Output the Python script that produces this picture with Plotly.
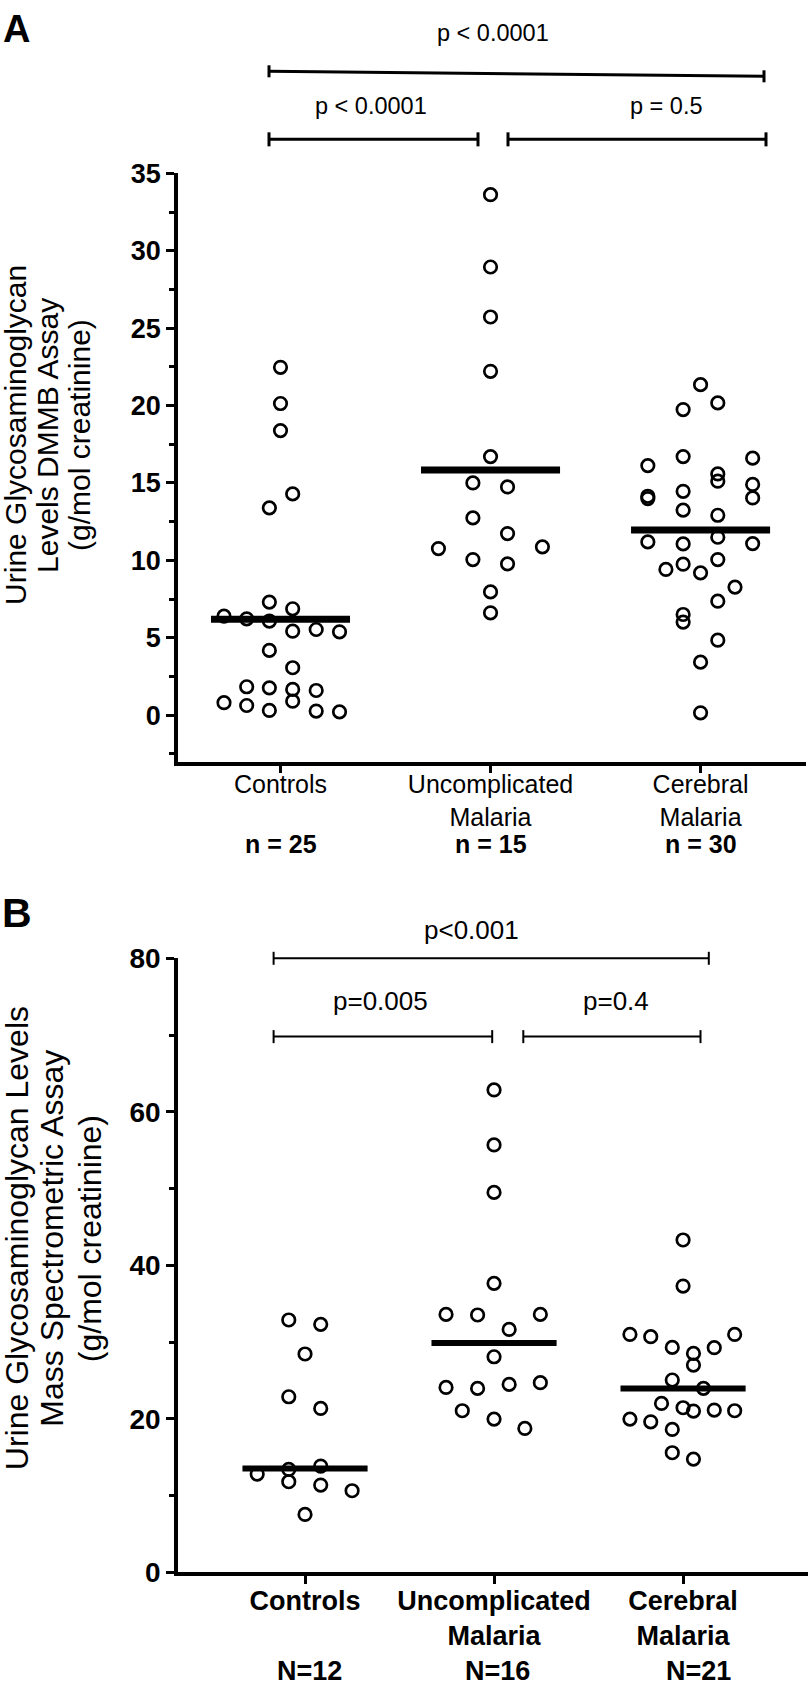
import plotly.graph_objects as go

W, H = 810, 1695
FONT = "Liberation Sans, Arial, Helvetica, sans-serif"

# ---------------- Panel A : DMMB assay ----------------
cat_a = ["Controls", "Uncomplicated<br>Malaria", "Cerebral<br>Malaria"]
n_a = ["n = 25", "n = 15", "n = 30"]
ctrl_a = [22.47, 20.13, 18.38, 14.29, 13.39, 6.39, 6.22, 7.30, 6.07, 6.87, 5.42, 5.53, 5.38,
          4.18, 3.06, 1.83, 1.76, 1.66, 1.59, 0.80, 0.62, 0.30, 0.90, 0.26, 0.21]
ctrl_a_dx = [0.0, 0.0, 0.0, 0.058, -0.053, -0.269, -0.161, -0.053, -0.053, 0.058, 0.058, 0.17, 0.281,
             -0.053, 0.058, -0.161, -0.053, 0.058, 0.17, -0.269, -0.161, -0.053, 0.058, 0.17, 0.281]
unc_a = [33.62, 28.95, 25.72, 22.21, 16.70, 15.0, 14.74, 12.74, 11.73, 10.76, 10.87, 10.05, 9.77, 7.96, 6.61]
unc_a_dx = [0, 0, 0, 0, 0, -0.084, 0.081, -0.084, 0.081, -0.248, 0.247, -0.084, 0.081, 0, 0]
cer_a = [21.35, 20.17, 19.74, 16.70, 16.60, 16.12, 15.58, 15.11, 14.90, 14.14, 13.99, 14.46, 14.03, 13.24, 12.91,
         11.49, 11.19, 11.06, 11.08, 9.41, 9.75, 9.19, 10.05, 8.27, 7.36, 6.50, 6.01, 4.84, 3.42, 0.15]
cer_a_dx = [0, 0.082, -0.083, -0.083, 0.248, -0.251, 0.082, 0.082, 0.248, -0.251, -0.251, -0.083, 0.248, -0.083, 0.082,
            0.082, -0.251, -0.083, 0.248, -0.165, -0.083, 0, 0.082, 0.164, 0.082, -0.083, -0.083, 0.082, 0, 0]
med_a = [6.2, 15.84, 11.96]
p_a = ["p < 0.0001", "p < 0.0001", "p = 0.5"]
ytitle_a = ["Urine Glycosaminoglycan", "Levels DMMB Assay", "(g/mol creatinine)"]

# ---------------- Panel B : Mass spectrometric assay ----------------
cat_b = ["Controls", "Uncomplicated<br>Malaria", "Cerebral<br>Malaria"]
n_b = ["N=12", "N=16", "N=21"]
ctrl_b = [32.89, 32.32, 28.46, 22.89, 21.37, 12.82, 13.42, 13.86, 11.82, 11.39, 10.65, 7.56]
ctrl_b_dx = [-0.086, 0.083, 0, -0.086, 0.083, -0.253, -0.086, 0.083, -0.086, 0.083, 0.249, 0]
unc_b = [62.85, 55.69, 49.51, 37.66, 33.62, 33.54, 33.62, 31.66, 28.10, 24.1, 23.98, 24.5, 24.72, 21.07, 19.98, 18.76]
unc_b_dx = [0, 0, 0, 0, -0.254, -0.087, 0.245, 0.08, 0, -0.254, -0.087, 0.08, 0.245, -0.168, 0, 0.163]
cer_b = [43.31, 37.31, 31.01, 30.71, 29.32, 28.54, 29.28, 31.01, 27.02, 25.07, 23.98, 22.02, 21.46, 21.03,
         21.16, 21.07, 19.98, 19.63, 18.63, 15.6, 14.77]
cer_b_dx = [0, 0, -0.281, -0.171, -0.057, 0.055, 0.165, 0.273, 0.055, -0.057, 0.108, -0.114, 0, 0.055,
            0.165, 0.273, -0.281, -0.171, -0.057, -0.057, 0.055]
med_b = [13.55, 29.89, 23.98]
p_b = ["p<0.001", "p=0.005", "p=0.4"]
ytitle_b = ["Urine Glycosaminoglycan Levels", "Mass Spectrometric Assay", "(g/mol creatinine)"]

# vertical calibration of the captured page (measured from a previous capture)
V_SCALE, V_OFF = 0.9814, 13.7


def px(x):
    return x / W


def Y(y):
    return (y - V_OFF) / V_SCALE


def py(y):
    return 1 - Y(y) / H


fig = go.Figure()

marker = dict(symbol="circle-open", size=12.5, color="black", line=dict(width=2.7, color="black"))
MED_HALF = 0.331

for xa, ya, groups, meds, mw in [
    ("x", "y", [(ctrl_a, ctrl_a_dx), (unc_a, unc_a_dx), (cer_a, cer_a_dx)], med_a, 7),
    ("x2", "y2", [(ctrl_b, ctrl_b_dx), (unc_b, unc_b_dx), (cer_b, cer_b_dx)], med_b, 6),
]:
    for i, (vals, dx) in enumerate(groups):
        fig.add_trace(go.Scatter(x=[i + d for d in dx], y=vals, mode="markers", marker=marker,
                                 xaxis=xa, yaxis=ya, hoverinfo="y", showlegend=False))
    for i, m in enumerate(meds):
        fig.add_trace(go.Scatter(x=[i - MED_HALF, i + MED_HALF], y=[m, m], mode="lines",
                                 line=dict(color="black", width=mw), xaxis=xa, yaxis=ya,
                                 hoverinfo="skip", showlegend=False))

common_axis = dict(showgrid=False, zeroline=False, showline=True, linecolor="black",
                   ticks="outside", tickcolor="black", ticklen=8)

fig.update_layout(
    width=W, height=H, autosize=False,
    margin=dict(l=0, r=0, t=0, b=0),
    paper_bgcolor="white", plot_bgcolor="white",
    showlegend=False,
    font=dict(family=FONT, color="black"),
    xaxis=dict(domain=[px(178), px(806)], range=[-0.488, 2.502], anchor="y",
               tickvals=[0, 1, 2], ticktext=cat_a, linewidth=3.5, tickwidth=3, ticklabelstandoff=-10,
               tickfont=dict(family=FONT, size=25, color="black"), **common_axis),
    yaxis=dict(domain=[py(760), py(172)], range=[-3, 35], anchor="x",
               tickvals=[0, 5, 10, 15, 20, 25, 30, 35], linewidth=3.5, tickwidth=3,
               minor=dict(dtick=2.5, tick0=0, ticks="outside", ticklen=5, tickwidth=3, tickcolor="black"),
               tickfont=dict(family=FONT, size=27, color="black", weight="bold"), **common_axis),
    xaxis2=dict(domain=[px(178), px(808)], range=[-0.672, 2.661], anchor="y2",
                tickvals=[0, 1, 2], ticktext=cat_b, linewidth=3.5, tickwidth=3, ticklabelstandoff=-7,
                tickfont=dict(family=FONT, size=27, color="black", weight="bold"), **common_axis),
    yaxis2=dict(domain=[py(1570.7), py(956.7)], range=[0, 80], anchor="x2",
                tickvals=[0, 20, 40, 60, 80], linewidth=3.5, tickwidth=3,
                minor=dict(dtick=10, tick0=0, ticks="outside", ticklen=5, tickwidth=3, tickcolor="black"),
                tickfont=dict(family=FONT, size=28, color="black", weight="bold"), **common_axis),
)

# ---------------- significance brackets (layout, pixel based) ----------------
brackets = [
    # x0, x1, y0, y1, tick half height, line width
    (269, 764, 70, 75, 6, 3),
    (269, 478, 138, 138, 7, 3),
    (508, 766, 138, 138, 7, 3),
    (273.6, 708.8, 956.7, 956.7, 6.5, 2),
    (273.6, 492.2, 1035, 1035, 6.5, 2),
    (523.3, 700.5, 1035, 1035, 6.5, 2),
]
shapes = []
for x0, x1, y0, y1, th, lw in brackets:
    ln = dict(color="black", width=lw)
    shapes.append(dict(type="line", xref="paper", yref="paper", x0=px(x0), x1=px(x1), y0=py(y0), y1=py(y1), line=ln))
    shapes.append(dict(type="line", xref="paper", yref="paper", x0=px(x0), x1=px(x0), y0=py(y0 - th), y1=py(y0 + th), line=ln))
    shapes.append(dict(type="line", xref="paper", yref="paper", x0=px(x1), x1=px(x1), y0=py(y1 - th), y1=py(y1 + th), line=ln))
fig.update_layout(shapes=shapes)

ann = []
p_pos_a = [(493, 32), (371, 105), (666, 105)]
for t, (x, y) in zip(p_a, p_pos_a):
    ann.append(dict(text=t, x=px(x), y=py(y), xref="paper", yref="paper", showarrow=False,
                    xanchor="center", yanchor="middle", font=dict(family=FONT, size=23.5, color="black")))
p_pos_b = [(471.5, 928), (380, 999), (616, 999)]
for t, (x, y) in zip(p_b, p_pos_b):
    ann.append(dict(text=t, x=px(x), y=py(y), xref="paper", yref="paper", showarrow=False,
                    xanchor="center", yanchor="middle", font=dict(family=FONT, size=26, color="black")))

for i, t in enumerate(n_a):
    ann.append(dict(text=t, x=i, y=py(842.5), xref="x", yref="paper", showarrow=False,
                    xanchor="center", yanchor="middle",
                    font=dict(family=FONT, size=25, color="black", weight="bold")))
n_pos_b = [309.6, 497, 698]
for t, x in zip(n_b, n_pos_b):
    ann.append(dict(text=t, x=px(x), y=1 - 1687 / H, xref="paper", yref="paper", showarrow=False,
                    xanchor="center", yanchor="middle",
                    font=dict(family=FONT, size=27, color="black", weight="bold")))

for t, x in zip(ytitle_a, [15.5, 47.5, 79.5]):
    ann.append(dict(text=t, x=px(x), y=py(434), xref="paper", yref="paper", showarrow=False,
                    textangle=-90, xanchor="center", yanchor="middle",
                    font=dict(family=FONT, size=30, color="black")))
for t, x in zip(ytitle_b, [16.5, 52, 89.5]):
    ann.append(dict(text=t, x=px(x), y=py(1237), xref="paper", yref="paper", showarrow=False,
                    textangle=-90, xanchor="center", yanchor="middle",
                    font=dict(family=FONT, size=32, color="black")))

for t, (x, y), s in zip(["A", "B"], [(16, 27.5), (16.7, 911.7)], [38, 41]):
    ann.append(dict(text=t, x=px(x), y=py(y), xref="paper", yref="paper", showarrow=False,
                    xanchor="center", yanchor="middle",
                    font=dict(family=FONT, size=s, color="black", weight="bold")))

fig.update_layout(annotations=ann)

fig.write_html("out.html", config={"displayModeBar": False},
               post_script="document.body.style.margin='0';document.body.style.overflow='hidden';")
